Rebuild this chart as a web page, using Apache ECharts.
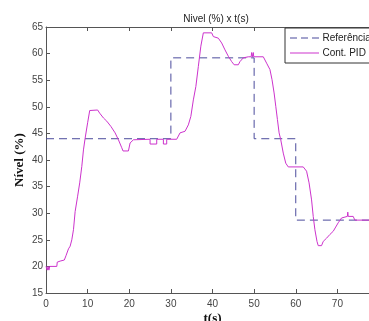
<!DOCTYPE html>
<html>
<head>
<meta charset="utf-8">
<script src="https://cdn.jsdelivr.net/npm/echarts@6/dist/echarts.min.js"></script>
<style>
  html, body { margin: 0; padding: 0; background: #fff; }
  #chart { width: 369px; height: 321px; }
</style>
</head>
<body>
<div id="chart"></div>
<script>
// referência (degraus)
const refT = [0, 30, 30, 50, 50, 60, 60, 80];
const refV = [44, 44, 59.2, 59.2, 44, 44, 28.7, 28.7];

// resposta do controlador PID
const pidT = [0, 0.3, 0.5, 0.7, 0.9, 2.6, 2.7, 3.4, 4.4, 4.8, 5.4, 5.8, 6.2, 6.6, 7.0, 7.6, 8.1, 8.6, 9.0, 9.4,
  10.0, 10.5, 12.4, 12.9, 13.8, 14.6, 15.6, 16.6, 17.4, 18.2, 18.5, 19.8, 20.2, 21.0, 25.0, 25.0, 26.6, 26.6,
  28.2, 28.2, 29.0, 29.0, 31.4, 32.2, 33.4, 34.2, 34.8, 35.4, 36.0, 36.6, 37.2, 37.8, 39.8, 40.2, 41.4, 42.2,
  43.0, 43.8, 44.6, 45.2, 46.2, 46.6, 47.4, 48.6, 49.3, 49.4, 49.6, 49.8, 49.9, 52.2, 53.0, 53.8, 54.3, 54.8,
  55.2, 55.6, 56.0, 56.4, 57.0, 57.6, 58.2, 61.8, 62.6, 63.2, 63.8, 64.2, 64.6, 65.1, 65.4, 66.2, 66.6, 67.4,
  68.2, 69.0, 69.6, 70.2, 71.0, 71.4, 72.4, 72.5, 72.6, 73.8, 74.2, 80];
const pidV = [20, 19.3, 20, 19.3, 20, 20, 20.8, 21, 21.2, 22, 23.3, 23.8, 25, 26.9, 30.3, 33.2, 35.7, 38.8, 41.9, 44.1,
  47, 49.3, 49.4, 48.8, 47.9, 47.3, 46.3, 45.1, 43.8, 42.3, 41.7, 41.7, 43.2, 43.8, 43.9, 43.0, 43.0, 43.9,
  43.9, 43.0, 43.0, 43.9, 43.9, 45.1, 45.4, 46.6, 48.2, 51.3, 53.8, 57.6, 61.4, 63.9, 63.9, 63.2, 62.9, 62,
  60.7, 59.5, 58.5, 57.9, 57.9, 58.5, 59.2, 59.4, 59.4, 60.2, 59.4, 60.2, 59.4, 59.4, 58.2, 57, 55.1, 52.6,
  50.1, 47.6, 45.1, 43.8, 41.3, 39.4, 38.7, 38.7, 37.9, 35.7, 32.5, 29.4, 26.9, 24.7, 23.9, 23.9, 24.7, 25.3,
  26.0, 26.6, 27.4, 28.2, 29.1, 29.4, 29.4, 30.2, 29.4, 29.4, 28.7, 28.7];

const xTicks = [0, 80, 10];
const yTicks = [15, 65, 5];

const axisColor = "#555";
const labelFont = { fontFamily: "Liberation Sans", fontSize: 10, color: "#444" };

const chart = echarts.init(document.getElementById("chart"), null, { renderer: "canvas" });
chart.setOption({
  animation: false,
  backgroundColor: "#fff",
  title: {
    text: "Nivel (%) x t(s)",
    left: 211,
    textAlign: "center",
    top: 9,
    textStyle: { fontFamily: "Liberation Sans", fontSize: 10, fontWeight: "normal", color: "#222" },
  },
  legend: {
    orient: "vertical",
    left: 285,
    top: 28,
    itemWidth: 30,
    itemHeight: 1,
    itemGap: 5,
    padding: [5, 16, 5, 5],
    borderColor: "#333",
    borderWidth: 1,
    backgroundColor: "#fff",
    textStyle: { fontFamily: "Liberation Sans", fontSize: 10, color: "#222", padding: [0, 0, 0, -2] },
    data: [
      { name: "Referência", icon: "path://M0,0h7v1h-7zM11,0h7v1h-7zM22,0h7v1h-7z" },
      { name: "Cont. PID", icon: "path://M0,0h29v1h-29z" },
    ],
  },
  grid: { left: 46, top: 27, bottom: 28, right: -10, outerBoundsMode: "none" },
  xAxis: [
    {
      type: "value",
      min: xTicks[0],
      max: xTicks[1],
      interval: xTicks[2],
      name: "t(s)",
      nameLocation: "middle",
      nameGap: 19,
      nameMoveOverlap: false,
      nameTextStyle: { fontFamily: "Liberation Serif", fontSize: 13, fontWeight: "bold", color: "#111" },
      axisLine: { onZero: false, lineStyle: { color: axisColor } },
      axisTick: { inside: true, length: 4, lineStyle: { color: axisColor } },
      axisLabel: Object.assign({ margin: 6 }, labelFont),
      splitLine: { show: false },
    },
    {
      type: "value",
      position: "top",
      min: xTicks[0],
      max: xTicks[1],
      interval: xTicks[2],
      axisLine: { onZero: false, lineStyle: { color: axisColor } },
      axisTick: { inside: true, length: 4, lineStyle: { color: axisColor } },
      axisLabel: { show: false },
      splitLine: { show: false },
    },
  ],
  yAxis: {
    type: "value",
    min: yTicks[0],
    max: yTicks[1],
    interval: yTicks[2],
    name: "Nível (%)",
    nameLocation: "middle",
    nameGap: 20,
    nameMoveOverlap: false,
    nameTextStyle: { fontFamily: "Liberation Serif", fontSize: 13, fontWeight: "bold", color: "#111" },
    axisLine: { show: true, lineStyle: { color: axisColor } },
    axisTick: { show: true, inside: true, length: 4, lineStyle: { color: axisColor } },
    axisLabel: Object.assign({ margin: 3 }, labelFont),
    splitLine: { show: false },
  },
  series: [
    {
      name: "Referência",
      type: "line",
      symbol: "none",
      color: "#4b4b9c",
      lineStyle: { width: 1, type: [8, 5] },
      data: refT.map((t, i) => [t, refV[i]]),
    },
    {
      name: "Cont. PID",
      type: "line",
      symbol: "none",
      color: "#cc33cc",
      lineStyle: { width: 1 },
      data: pidT.map((t, i) => [t, pidV[i]]),
    },
  ],
});
</script>
</body>
</html>
